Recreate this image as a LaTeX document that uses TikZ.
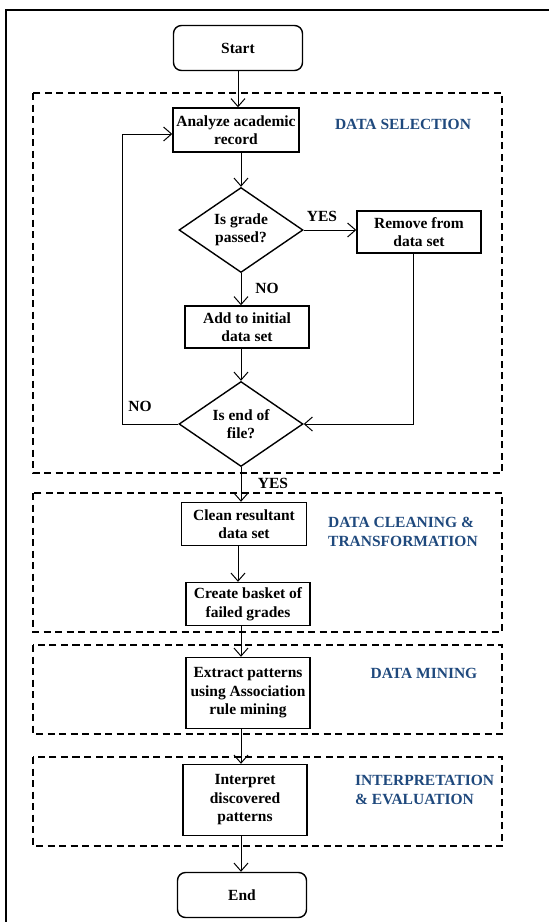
\documentclass[tikz,border=0pt]{standalone}
\usepackage{fontspec}
\setmainfont{Liberation Serif}
\usetikzlibrary{shapes.geometric,arrows.meta,calc}
\definecolor{stageblue}{RGB}{31,73,125}
\begin{document}
\begin{tikzpicture}[x=1pt,y=-1pt,
  every node/.style={font=\fontsize{15.5}{18.5}\selectfont\bfseries},
  procbox/.style={draw,line width=1.4pt,rectangle,align=center,inner sep=0pt,minimum width=124pt},
  termbox/.style={draw,line width=1.4pt,rectangle,rounded corners=8pt,align=center,inner sep=0pt,minimum width=129pt,minimum height=45pt},
  decbox/.style={draw,line width=1.4pt,diamond,aspect=1.46,align=center,inner sep=0pt,minimum width=124pt,minimum height=85pt},
  flow/.style={line width=1pt,-{Straight Barb[length=8pt,width=14pt,line width=1pt]}},
  stagebox/.style={line width=1.8pt,dash pattern=on 7pt off 4.5pt},
  stagelbl/.style={text=stageblue,align=left,inner sep=0pt},
  lbl/.style={inner sep=0pt}]
\useasboundingbox (0,0) rectangle (549,922);
% outer frame
\draw[line width=2.4pt] (6,930) -- (6,10) -- (560,10);
% stage boxes
\draw[stagebox] (33,93) rectangle (502,473);
\draw[stagebox] (33,493) rectangle (502,632);
\draw[stagebox] (33,645) rectangle (502,734);
\draw[stagebox] (33,757) rectangle (502,846);
% nodes
\node[termbox] (start) at (238,48) {Start};
\node[procbox,minimum width=126pt,minimum height=44pt] (analyze) at (236,130) {Analyze academic\\record};
\node[decbox] (d1) at (241,230) {Is grade\\passed?};
\node[procbox,minimum height=42pt] (remove) at (419,232) {Remove from\\data set};
\node[procbox,minimum height=42pt] (add) at (247,327) {Add to initial\\data set};
\node[decbox] (d2) at (241,424) {Is end of\\file?};
\node[procbox,minimum width=125pt,minimum height=43pt] (clean) at (244,524) {Clean resultant\\data set};
\node[procbox,minimum height=43pt] (create) at (248,604) {Create basket of\\failed grades};
\node[procbox,minimum height=71pt] (extract) at (248,693) {Extract patterns\\using Association\\rule mining};
\node[procbox,minimum height=71pt] (interp) at (245,800) {Interpret\\discovered\\patterns};
\node[termbox] (end) at (242,895) {End};
% stage labels
\node[stagelbl] (lsel) at (403,124) {DATA SELECTION};
\node[stagelbl,anchor=west] (lclean) at (328,532) {DATA CLEANING \&\\TRANSFORMATION};
\node[stagelbl] (lmine) at (424,673) {DATA MINING};
\node[stagelbl,anchor=west] (linterp) at (355,790) {INTERPRETATION\\\& EVALUATION};
% branch labels
\node[lbl] (yes1) at (322,216) {YES};
\node[lbl] (no1) at (267,288) {NO};
\node[lbl] (no2) at (140,406) {NO};
\node[lbl] (yes2) at (273,483) {YES};
% connectors
\coordinate (loopc) at (122,424);
\draw[flow] (start.south) -- (start.south |- analyze.north);
\draw[flow] (d1.north |- analyze.south) -- (d1.north);
\draw[flow] (d1.east) -- (remove.west |- d1.east);
\draw[flow] (d1.south) -- (d1.south |- add.north);
\draw[flow] (d2.north |- add.south) -- (d2.north);
\draw[flow] ([xshift=-6pt]remove.south) |- (d2.east);
\draw[flow] (d2.west) -| (loopc) |- ([yshift=-4pt]analyze.west);
\draw[flow] (d2.south) -- (d2.south |- clean.north);
\draw[flow] (clean.south -| d2.south) ++(-3,0) coordinate (c1) -- (c1 |- create.north);
\draw[flow] (create.south -| d2.south) -- (d2.south |- extract.north);
\draw[flow] (extract.south -| d2.south) -- (d2.south |- interp.north);
\draw[flow] (interp.south -| d2.south) -- (d2.south |- end.north);
\end{tikzpicture}
\end{document}
